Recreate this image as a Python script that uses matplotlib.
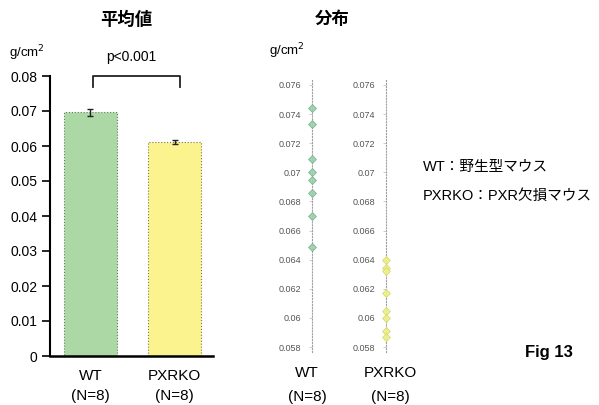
import matplotlib
matplotlib.use("Agg")
import matplotlib.pyplot as plt
import numpy as np

plt.rcParams['font.family'] = ['Liberation Sans', 'Noto Sans CJK JP']

# --- data -------------------------------------------------------------
groups = ["WT", "PXRKO"]
group_labels = ["WT\n(N=8)", "PXRKO\n(N=8)"]
mean_bmd = [0.0696, 0.0612]
sem_bmd = [0.0010, 0.0006]
wt_values = [0.0744, 0.0733, 0.0709, 0.0700, 0.0695, 0.0686, 0.0670, 0.0649]
pxrko_values = [0.0640, 0.0634, 0.0632, 0.0617, 0.0605, 0.0600, 0.0591, 0.0587]
bar_ticks = [0, 0.01, 0.02, 0.03, 0.04, 0.05, 0.06, 0.07, 0.08]
bar_tick_labels = ["0", "0.01", "0.02", "0.03", "0.04", "0.05", "0.06", "0.07", "0.08"]
dist_ticks = [0.058, 0.060, 0.062, 0.064, 0.066, 0.068, 0.070, 0.072, 0.074, 0.076]
dist_tick_labels = ["0.058", "0.06", "0.062", "0.064", "0.066", "0.068",
                    "0.07", "0.072", "0.074", "0.076"]

W, H = 599, 405
fig = plt.figure(figsize=(W / 100, H / 100), dpi=100)
fig.patch.set_facecolor("white")


def rect(l, t, r, b):
    return [l / W, 1 - b / H, (r - l) / W, (b - t) / H]


def ftext(x, y, s, **kw):
    kw.setdefault("ha", "center")
    kw.setdefault("va", "center")
    fig.text(x / W, 1 - y / H, s, **kw)


# --- bar chart of means ------------------------------------------------
ax = fig.add_axes(rect(50, 76, 213, 356))
bar_colors = ["#abd8a4", "#fbf38e"]
edge_colors = ["#5d7d5d", "#7d7a48"]
x = np.arange(len(groups))
ax.bar(x, mean_bmd, width=0.63, color=bar_colors, edgecolor=edge_colors,
       linewidth=0.8, linestyle=":", zorder=2)
ax.errorbar(x, mean_bmd, yerr=sem_bmd, fmt="none", ecolor="#222222",
            elinewidth=1.0, capsize=2.5, capthick=1.0, zorder=3)
ax.set_xlim(-0.482, 1.458)
ax.set_ylim(0, 0.08)
ax.set_yticks(bar_ticks)
ax.set_yticklabels(bar_tick_labels, fontsize=10)
ax.set_xticks(x)
ax.set_xticklabels(group_labels, fontsize=11, linespacing=1.55)
ax.tick_params(axis="x", length=0, pad=9)
ax.tick_params(axis="y", direction="out", length=6, width=1.2, pad=3)
for side in ("top", "right"):
    ax.spines[side].set_visible(False)
ax.spines["left"].set_linewidth(1.5)
ax.spines["bottom"].set_linewidth(1.8)

# significance bracket
ax.plot([0.03, 0.03, 1.07, 1.07], [0.0770, 0.0800, 0.0800, 0.0770],
        color="#222222", lw=1.3, clip_on=False)
ftext(131, 57, "p<0.001", fontsize=10)

ftext(27, 53, "g/cm$^2$", fontsize=9.5)
ftext(126, 19, "平均値", fontsize=12.5, fontweight="bold")

# --- distribution of individual values ---------------------------------
ylo = 0.058 - 5 / 14.556 * 0.001
yhi = 0.076 + 5 / 14.556 * 0.001
for vals, color, ec, l in ((wt_values, "#9ccfac", "#74b08a", 292),
                           (pxrko_values, "#eef08a", "#d4d860", 366)):
    dax = fig.add_axes(rect(l, 80, l + 40, 352))
    dax.set_facecolor("none")
    dax.scatter(np.zeros(len(vals)), vals, marker="D", s=16, color=color,
                edgecolors=ec, linewidths=0.6, alpha=0.9, zorder=3)
    dax.set_xlim(-1, 1)
    dax.set_ylim(ylo, yhi)
    for side in ("top", "right", "bottom"):
        dax.spines[side].set_visible(False)
    dax.spines["left"].set_position(("data", 0))
    dax.spines["left"].set_linestyle(":")
    dax.spines["left"].set_color("#a0a0a0")
    dax.spines["left"].set_linewidth(0.8)
    dax.set_xticks([])
    dax.set_yticks(dist_ticks)
    dax.set_yticklabels(dist_tick_labels, fontsize=6.5, color="#555555")
    dax.tick_params(axis="y", length=2, width=0.5, color="#bbbbbb", pad=6)

ftext(307, 373, "WT", fontsize=11)
ftext(307, 397, "(N=8)", fontsize=11)
ftext(390, 373, "PXRKO", fontsize=11)
ftext(390, 397, "(N=8)", fontsize=11)

ftext(287, 51, "g/cm$^2$", fontsize=9.5)
ftext(332, 19, "分布", fontsize=12.5, fontweight="bold")

# --- legend notes --------------------------------------------------------
ftext(423, 167, "WT：野生型マウス", fontsize=10.5, ha="left")
ftext(423, 196, "PXRKO：PXR欠損マウス", fontsize=10.5, ha="left")
ftext(549, 352, "Fig 13", fontsize=12, fontweight="bold")

fig.savefig("out.png", dpi=100, facecolor="white")
